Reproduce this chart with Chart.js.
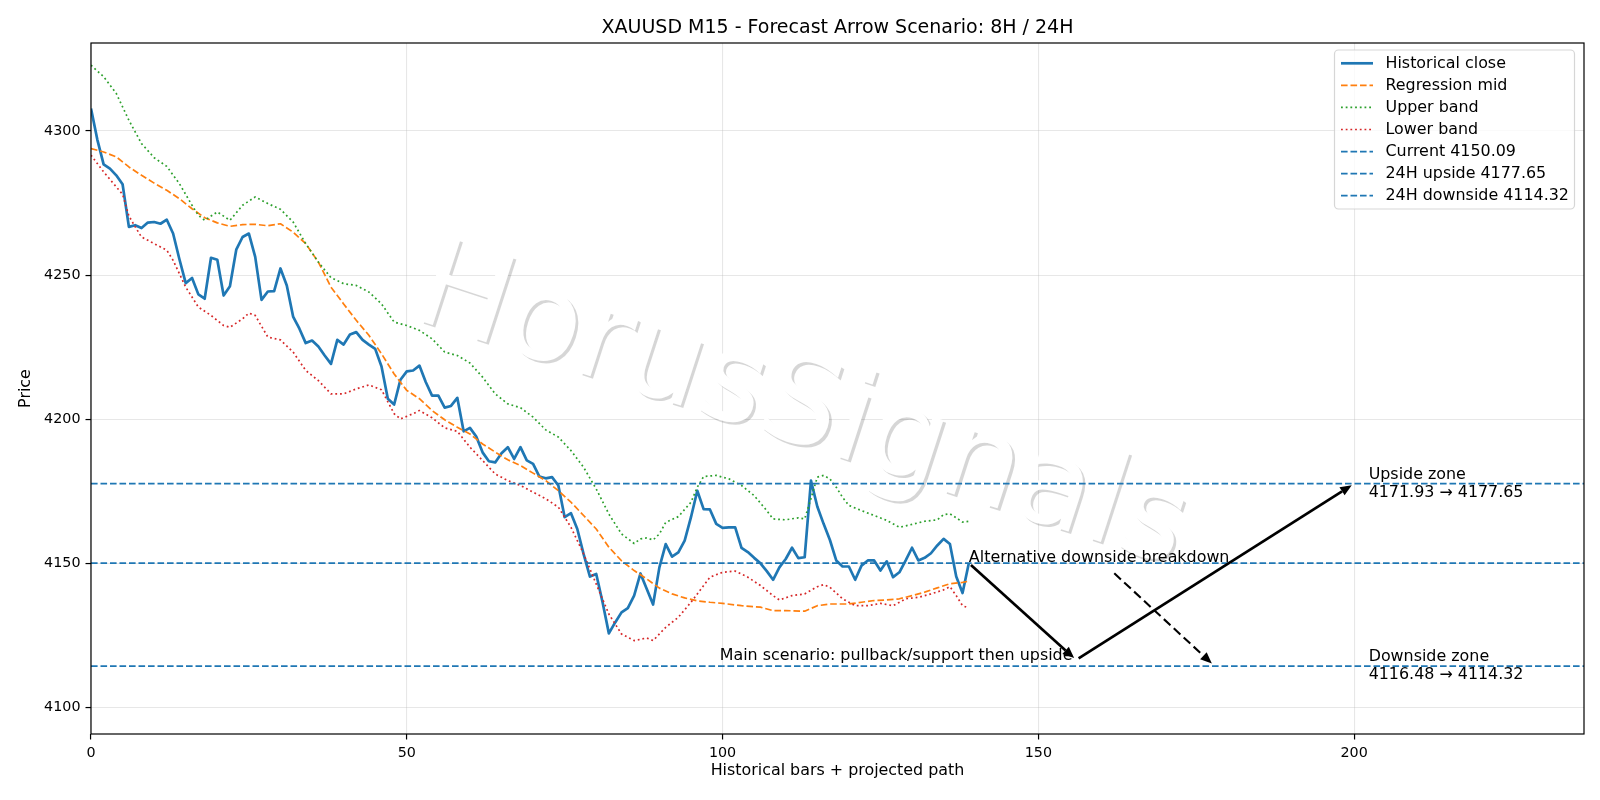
<!DOCTYPE html>
<html>
<head>
<meta charset="utf-8">
<title>XAUUSD M15 - Forecast Arrow Scenario</title>
<script src="https://cdn.jsdelivr.net/npm/chart.js@4.4.1/dist/chart.umd.min.js"></script>
<style>
  html, body { margin: 0; padding: 0; background: #fff; }
  #wrap { width: 1600px; height: 800px; }
</style>
</head>
<body>
<div id="wrap"><canvas id="chart" width="1600" height="800"></canvas></div>
<script>
// ---- values ----
const closeValues = [
  4307.8, 4297.0, 4288.4, 4286.9, 4284.6, 4281.5, 4266.7, 4267.3, 4266.3, 4268.2,
  4268.4, 4267.8, 4269.2, 4264.4, 4255.5, 4247.2, 4249.0, 4243.3, 4241.8, 4256.0,
  4255.3, 4242.9, 4246.1, 4258.8, 4263.2, 4264.4, 4256.3, 4241.4, 4244.3, 4244.4,
  4252.3, 4246.4, 4235.6, 4231.4, 4226.4, 4227.3, 4225.2, 4222.1, 4219.2, 4227.5,
  4225.9, 4229.4, 4230.2, 4227.5, 4225.9, 4224.4, 4218.3, 4207.1, 4205.1, 4213.7,
  4216.6, 4216.9, 4218.6, 4212.9, 4208.2, 4208.2, 4204.0, 4204.6, 4207.4, 4195.8,
  4197.0, 4194.0, 4188.5, 4185.4, 4185.0, 4188.2, 4190.3, 4186.2, 4190.3, 4185.7,
  4184.5, 4180.1, 4179.5, 4179.9, 4177.0, 4166.0, 4167.4, 4161.9, 4153.2, 4145.4,
  4146.3, 4136.5, 4125.7, 4129.5, 4133.0, 4134.5, 4138.8, 4146.5, 4141.1, 4135.7,
  4148.6, 4156.7, 4152.3, 4153.8, 4157.9, 4166.0, 4175.2, 4168.8, 4168.7, 4163.7,
  4162.3, 4162.5, 4162.5, 4155.4, 4153.9, 4151.9, 4150.0, 4147.3, 4144.3, 4148.6,
  4151.5, 4155.4, 4151.8, 4152.1, 4178.7, 4169.7, 4163.7, 4158.1, 4151.0, 4148.9,
  4148.9, 4144.3, 4149.2, 4151.0, 4151.0, 4147.5, 4150.7, 4145.2, 4146.9, 4151.0,
  4155.4, 4151.0, 4151.9, 4153.5, 4156.2, 4158.5, 4156.7, 4145.4, 4139.7, 4150.09
];

const midX = [0, 2, 4, 6, 8, 10, 12, 14, 16, 18, 20, 22, 24, 26, 28, 30, 32, 34, 36, 38,
  40, 42, 44, 46, 48, 50, 52, 54, 56, 58, 60, 62, 64, 66, 68, 70, 72, 74, 76, 78,
  80, 82, 84, 86, 88, 90, 92, 94, 96, 98, 100, 103, 106, 108, 110, 113, 115, 117, 120, 122,
  124, 126, 128, 130, 132, 134, 136, 138, 139];
const midY = [4293.9, 4292.7, 4291.0, 4287.5, 4284.6, 4281.9, 4279.4, 4276.5, 4273.0, 4269.9,
  4268.1, 4266.9, 4267.5, 4267.6, 4267.1, 4267.8, 4264.9, 4260.9, 4254.5, 4245.8,
  4240.0, 4234.3, 4229.1, 4222.7, 4215.7, 4210.0, 4207.1, 4203.0, 4199.8, 4197.2,
  4194.9, 4191.4, 4188.6, 4185.9, 4183.9, 4181.3, 4178.7, 4175.2, 4171.2, 4166.6,
  4161.9, 4155.6, 4150.9, 4147.5, 4144.6, 4141.4, 4139.4, 4138.0, 4137.0, 4136.5,
  4136.1, 4135.3, 4134.8, 4133.6, 4133.6, 4133.4, 4135.3, 4135.9, 4135.9, 4136.5,
  4137.1, 4137.3, 4137.7, 4138.8, 4140.0, 4141.5, 4142.9, 4143.4, 4143.8];

const upperX = [0, 2, 4, 6, 8, 10, 12, 14, 16, 17, 18, 20, 22, 24, 26, 28, 30, 32, 34, 36,
  38, 40, 42, 44, 46, 48, 50, 52, 54, 56, 58, 60, 62, 64, 66, 68, 70, 72, 74, 76,
  78, 80, 82, 84, 86, 87, 88, 89, 90, 91, 93, 95, 96, 97, 99, 101, 103, 105, 107, 108,
  110, 112, 113, 114, 115, 116, 117, 118, 119, 120, 122, 124, 126, 128, 130, 132, 134, 135, 136, 137,
  138, 139];
const upperY = [4322.8, 4318.8, 4313.0, 4303.7, 4295.6, 4290.7, 4287.7, 4281.7, 4274.2, 4270.7,
  4269.0, 4271.9, 4269.0, 4274.2, 4277.1, 4274.8, 4272.8, 4268.4, 4260.9, 4254.5,
  4249.1, 4247.0, 4246.4, 4244.1, 4240.0, 4233.7, 4232.5, 4230.8, 4227.9, 4223.3,
  4222.1, 4219.5, 4214.6, 4208.8, 4205.3, 4204.0, 4200.7, 4196.3, 4193.8, 4189.1,
  4183.3, 4175.8, 4167.1, 4160.2, 4156.9, 4158.5, 4158.8, 4158.1, 4160.2, 4164.2,
  4166.2, 4171.2, 4176.4, 4180.1, 4180.5, 4179.3, 4177.0, 4173.5, 4168.3, 4165.4,
  4165.1, 4165.8, 4165.4, 4172.5, 4179.9, 4180.5, 4179.3, 4176.4, 4172.9, 4170.1,
  4168.3, 4166.6, 4164.9, 4162.5, 4163.5, 4164.6, 4165.1, 4166.9, 4167.2, 4165.8,
  4164.3, 4164.6];

const lowerX = [0, 2, 4, 5, 6, 7, 8, 10, 12, 13, 15, 17, 19, 21, 22, 24, 25, 26, 28, 30,
  32, 34, 36, 38, 40, 42, 44, 46, 48, 49, 51, 52, 54, 56, 58, 60, 62, 64, 66, 68,
  70, 72, 74, 76, 78, 80, 82, 84, 86, 88, 89, 91, 93, 95, 96, 98, 100, 102, 104, 106,
  108, 109, 111, 113, 115, 116, 117, 119, 121, 123, 125, 127, 129, 131, 133, 135, 136, 137, 138, 139];
const lowerY = [4291.6, 4285.8, 4280.6, 4278.0, 4270.5, 4266.7, 4263.2, 4260.9, 4258.6, 4255.1,
  4245.8, 4238.9, 4236.0, 4232.5, 4231.9, 4234.8, 4236.8, 4236.0, 4228.5, 4227.5,
  4223.3, 4216.9, 4213.4, 4208.8, 4208.8, 4210.5, 4211.9, 4210.2, 4201.9, 4200.1,
  4201.9, 4203.0, 4200.5, 4197.0, 4195.8, 4190.3, 4185.7, 4181.0, 4178.7, 4177.0,
  4174.7, 4172.4, 4169.5, 4162.5, 4153.3, 4142.8, 4132.4, 4125.5, 4123.2, 4124.1,
  4123.2, 4127.8, 4131.3, 4136.5, 4139.4, 4145.2, 4146.9, 4147.3, 4145.2, 4142.3,
  4138.8, 4137.3, 4138.8, 4139.4, 4141.9, 4142.6, 4141.7, 4137.7, 4135.3, 4135.3,
  4136.1, 4135.3, 4137.7, 4138.2, 4139.4, 4140.8, 4141.9, 4138.8, 4135.3, 4134.5];

const currentLevel = 4150.09;
const upsideLevel = 4177.65;
const downsideLevel = 4114.32;
const upsideZone = [4171.93, 4177.65];
const downsideZone = [4116.48, 4114.32];

// projected path: main scenario (pullback then upside) and alternative breakdown
const mainPathX = [139, 156, 200];
const mainPathY = [4150.09, 4116.48, 4177.65];
const altPathX = [161.7, 177.8];
const altPathY = [4147.2, 4114.6];

const xTicks = [0, 50, 100, 150, 200];
const yTicks = [4100, 4150, 4200, 4250, 4300];

const X_MIN = 0, X_MAX = 236.4;
const Y_MIN = 4090.8, Y_MAX = 4330.5;

const FONT = '"DejaVu Sans", sans-serif';
const TEXT_PX = 15.9;
const TICK_PX = 14.3;
const GRID = 'rgba(176,176,176,0.3)';
const DASH = [6.6, 2.9];
const DOT = [1.8, 2.9];

Chart.defaults.font.family = FONT;
Chart.defaults.font.size = TICK_PX;
Chart.defaults.color = '#000';

function pts(xs, ys) {
  return xs.map((x, i) => ({ x: x, y: ys[i] }));
}

function hline(level) {
  return [{ x: X_MIN, y: level }, { x: X_MAX, y: level }];
}

const lineBase = { pointRadius: 0, tension: 0, fill: false, borderJoinStyle: 'round', borderCapStyle: 'butt' };

const datasets = [
  Object.assign({ label: 'Historical close', data: closeValues.map((v, i) => ({ x: i, y: v })),
    borderColor: '#1f77b4', borderWidth: 2.7, order: 7 }, lineBase),
  Object.assign({ label: 'Regression mid', data: pts(midX, midY),
    borderColor: '#ff7f0e', borderWidth: 1.7, borderDash: DASH, order: 6 }, lineBase),
  Object.assign({ label: 'Upper band', data: pts(upperX, upperY),
    borderColor: '#2ca02c', borderWidth: 1.7, borderDash: DOT, order: 5 }, lineBase),
  Object.assign({ label: 'Lower band', data: pts(lowerX, lowerY),
    borderColor: '#d62728', borderWidth: 1.7, borderDash: DOT, order: 4 }, lineBase),
  Object.assign({ label: 'Current ' + currentLevel.toFixed(2), data: hline(currentLevel),
    borderColor: '#1f77b4', borderWidth: 1.7, borderDash: DASH, order: 3 }, lineBase),
  Object.assign({ label: '24H upside ' + upsideLevel.toFixed(2), data: hline(upsideLevel),
    borderColor: '#1f77b4', borderWidth: 1.7, borderDash: DASH, order: 2 }, lineBase),
  Object.assign({ label: '24H downside ' + downsideLevel.toFixed(2), data: hline(downsideLevel),
    borderColor: '#1f77b4', borderWidth: 1.7, borderDash: DASH, order: 1 }, lineBase)
];

// faint watermark behind the series
const watermarkPlugin = {
  id: 'watermark',
  beforeDatasetsDraw(chart) {
    const ctx = chart.ctx;
    ctx.save();
    ctx.font = '123px ' + FONT;
    ctx.textAlign = 'center';
    ctx.textBaseline = 'middle';
    ctx.shadowColor = 'rgba(0,0,0,0.16)';
    ctx.shadowOffsetX = 2.6;
    ctx.shadowOffsetY = 2.6;
    ctx.shadowBlur = 0;
    ctx.translate(801, 411);
    ctx.rotate(18 * Math.PI / 180);
    ctx.fillStyle = '#ffffff';
    ctx.fillText('HorusSignals', 0, 0);
    ctx.restore();
  }
};

function arrow(ctx, x0, y0, x1, y1, width, dash) {
  const ang = Math.atan2(y1 - y0, x1 - x0);
  const shrink = 2.8;
  const sx = x0 + Math.cos(ang) * shrink, sy = y0 + Math.sin(ang) * shrink;
  const ex = x1 - Math.cos(ang) * shrink, ey = y1 - Math.sin(ang) * shrink;
  const headLen = 11.5, headHalf = 4.8;
  const bx = ex - Math.cos(ang) * headLen, by = ey - Math.sin(ang) * headLen;
  ctx.save();
  ctx.strokeStyle = '#000';
  ctx.fillStyle = '#000';
  ctx.lineWidth = width;
  ctx.setLineDash(dash || []);
  ctx.beginPath();
  ctx.moveTo(sx, sy);
  ctx.lineTo(bx, by);
  ctx.stroke();
  ctx.setLineDash([]);
  ctx.beginPath();
  ctx.moveTo(ex, ey);
  ctx.lineTo(bx + Math.sin(ang) * headHalf, by - Math.cos(ang) * headHalf);
  ctx.lineTo(bx - Math.sin(ang) * headHalf, by + Math.cos(ang) * headHalf);
  ctx.closePath();
  ctx.fill();
  ctx.restore();
}

// scenario arrows and zone labels
const scenarioPlugin = {
  id: 'scenario',
  afterDatasetsDraw(chart) {
    const ctx = chart.ctx;
    const xs = chart.scales.x, ys = chart.scales.y;
    const px = v => xs.getPixelForValue(v);
    const py = v => ys.getPixelForValue(v);

    for (let i = 0; i < mainPathX.length - 1; i++) {
      arrow(ctx, px(mainPathX[i]), py(mainPathY[i]), px(mainPathX[i + 1]), py(mainPathY[i + 1]), 2.7);
    }
    arrow(ctx, px(altPathX[0]), py(altPathY[0]), px(altPathX[1]), py(altPathY[1]), 2.1, [9, 4.5]);

    ctx.save();
    ctx.fillStyle = '#000';
    ctx.font = TEXT_PX + 'px ' + FONT;
    ctx.textBaseline = 'alphabetic';
    ctx.textAlign = 'left';
    ctx.fillText('Alternative downside breakdown', px(139), py(currentLevel) - 1);
    ctx.textAlign = 'right';
    ctx.fillText('Main scenario: pullback/support then upside', px(155.4), py(mainPathY[1]));

    ctx.textAlign = 'left';
    ctx.textBaseline = 'middle';
    const lx = px(202.3);
    const uy = py(upsideLevel), dy = py(downsideLevel);
    ctx.fillText('Upside zone', lx, uy - 9);
    ctx.fillText(upsideZone[0].toFixed(2) + ' \u2192 ' + upsideZone[1].toFixed(2), lx, uy + 9);
    ctx.fillText('Downside zone', lx, dy - 9);
    ctx.fillText(downsideZone[0].toFixed(2) + ' \u2192 ' + downsideZone[1].toFixed(2), lx, dy + 9);
    ctx.restore();
  }
};

// axes frame, title, axis labels and legend (matplotlib look)
const decorPlugin = {
  id: 'decor',
  afterDraw(chart) {
    const ctx = chart.ctx;
    const ca = chart.chartArea;
    ctx.save();
    ctx.strokeStyle = '#000';
    ctx.lineWidth = 1.2;
    ctx.strokeRect(ca.left, ca.top, ca.right - ca.left, ca.bottom - ca.top);

    const cx = (ca.left + ca.right) / 2;
    ctx.fillStyle = '#000';
    ctx.textAlign = 'center';
    ctx.textBaseline = 'alphabetic';
    ctx.font = '19px ' + FONT;
    ctx.fillText('XAUUSD M15 - Forecast Arrow Scenario: 8H / 24H', cx, 33);

    ctx.font = TEXT_PX + 'px ' + FONT;
    ctx.textBaseline = 'middle';
    ctx.fillText('Historical bars + projected path', cx, 771);
    ctx.save();
    ctx.translate(26, (ca.top + ca.bottom) / 2);
    ctx.rotate(-Math.PI / 2);
    ctx.fillText('Price', 0, 0);
    ctx.restore();

    // legend box
    const bx = 1334.5, by = 50, bw = 240, bh = 159, r = 4;
    ctx.beginPath();
    ctx.moveTo(bx + r, by);
    ctx.arcTo(bx + bw, by, bx + bw, by + bh, r);
    ctx.arcTo(bx + bw, by + bh, bx, by + bh, r);
    ctx.arcTo(bx, by + bh, bx, by, r);
    ctx.arcTo(bx, by, bx + bw, by, r);
    ctx.closePath();
    ctx.fillStyle = 'rgba(255,255,255,0.8)';
    ctx.fill();
    ctx.strokeStyle = 'rgba(204,204,204,0.8)';
    ctx.lineWidth = 1.2;
    ctx.stroke();

    ctx.textAlign = 'left';
    ctx.textBaseline = 'middle';
    chart.data.datasets.forEach((ds, i) => {
      const y = 63.3 + i * 22.07;
      ctx.save();
      ctx.strokeStyle = ds.borderColor;
      ctx.lineWidth = ds.borderWidth;
      ctx.setLineDash(ds.borderDash || []);
      ctx.lineCap = 'butt';
      ctx.beginPath();
      ctx.moveTo(1341, y);
      ctx.lineTo(1373, y);
      ctx.stroke();
      ctx.restore();
      ctx.fillStyle = '#000';
      ctx.fillText(ds.label, 1385.5, y + 0.5);
    });
    ctx.restore();
  }
};

const tickFont = { family: FONT, size: TICK_PX };

new Chart(document.getElementById('chart'), {
  type: 'line',
  data: { datasets: datasets },
  options: {
    responsive: false,
    animation: false,
    devicePixelRatio: 1,
    layout: { padding: { left: 0, right: 16, top: 43, bottom: 0 } },
    plugins: {
      legend: { display: false },
      tooltip: { enabled: false },
      title: { display: false }
    },
    scales: {
      x: {
        type: 'linear',
        min: X_MIN,
        max: X_MAX,
        afterFit: s => { s.height = 66; },
        afterBuildTicks: s => { s.ticks = xTicks.map(v => ({ value: v })); },
        ticks: { padding: 5, color: '#000', font: tickFont, maxRotation: 0, autoSkip: false,
                 callback: v => String(v) },
        grid: { color: GRID, lineWidth: 1.1, tickColor: '#000', tickLength: 5.5, tickWidth: 1.2 },
        border: { display: false }
      },
      y: {
        type: 'linear',
        min: Y_MIN,
        max: Y_MAX,
        afterFit: s => { s.width = 91; },
        afterBuildTicks: s => { s.ticks = yTicks.map(v => ({ value: v })); },
        ticks: { padding: 5, color: '#000', font: tickFont, autoSkip: false,
                 callback: v => String(v) },
        grid: { color: GRID, lineWidth: 1.1, tickColor: '#000', tickLength: 5.5, tickWidth: 1.2 },
        border: { display: false }
      }
    }
  },
  plugins: [watermarkPlugin, scenarioPlugin, decorPlugin]
});
</script>
</body>
</html>
